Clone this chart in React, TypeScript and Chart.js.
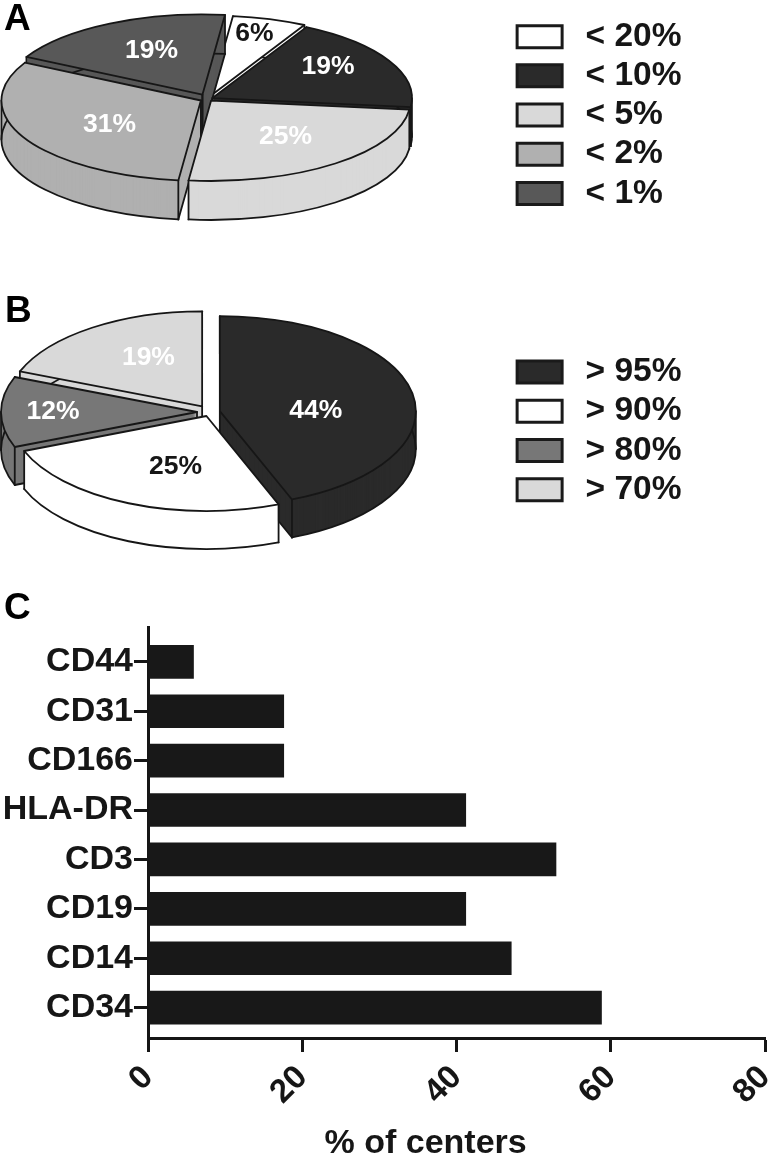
import React, { useEffect, useRef } from "react";
import { Chart, registerables } from "chart.js";

Chart.register(...registerables);

const FONT = "'Liberation Sans', Arial, sans-serif";
const INK = "#161616";
const SOFT = "blur(0.5px)";

// Panel A
const legendA = ["< 20%", "< 10%", "< 5%", "< 2%", "< 1%"];
const valuesA = [6, 19, 25, 31, 19];
const colorsA = ["#ffffff", "#2a2a2a", "#d9d9d9", "#b0b0b0", "#585858"];
const textColorsA = ["#161616", "#ffffff", "#ffffff", "#ffffff", "#ffffff"];
const offsetsA = [32, 20, 20, 32, 48];
const labelRadiiA = [0.81, 0.7, 0.58, 0.55, 0.6];
const labelTurnA = [-1.5, -6.5, -1.5, -6, 2.5];

// Panel B
const legendB = ["> 95%", "> 90%", "> 80%", "> 70%"];
const valuesB = [44, 25, 12, 19];
const colorsB = ["#2a2a2a", "#ffffff", "#777777", "#d9d9d9"];
const textColorsB = ["#ffffff", "#161616", "#ffffff", "#ffffff"];
const offsetsB = [40, 36, 52, 56];
const labelRadiiB = [0.49, 0.56, 0.735, 0.58];
const labelTurnB = [10, -7, 0, 6];

// Panel C
const markers = ["CD44", "CD31", "CD166", "HLA-DR", "CD3", "CD19", "CD14", "CD34"];
const percentCenters = [5.9, 17.6, 17.6, 41.2, 52.9, 41.2, 47.1, 58.8];
const xTicks = [0, 20, 40, 60, 80];
const xTitle = "% of centers";

type PieSpec = {
  cx: number; cy: number; k: number; depth: number;
  texts: string[]; textColors: string[]; radii: number[]; turns: number[];
};

function sector(ctx: CanvasRenderingContext2D, x: number, y: number, r: number, k: number, a0: number, a1: number) {
  ctx.beginPath();
  ctx.moveTo(x, y);
  ctx.ellipse(x, y, r, r * k, 0, a0, a1);
  ctx.closePath();
}

function pie3d(spec: PieSpec) {
  return {
    id: "pie3d",
    beforeDatasetsDraw(chart: any) {
      const { ctx } = chart;
      const { cx, cy, k, depth } = spec;
      const arcs = chart.getDatasetMeta(0).data as any[];
      const geo = arcs.map((arc: any, i: number) => {
        const mid = (arc.startAngle + arc.endAngle) / 2;
        const off = (arc.options.offset || 0) / 4;
        return {
          arc, i, mid,
          x: cx + Math.cos(mid) * off,
          y: cy + Math.sin(mid) * off * k,
          r: arc.outerRadius,
        };
      });
      const order = [...geo].sort((a, b) => Math.sin(a.mid) - Math.sin(b.mid));
      ctx.save();
      ctx.lineJoin = "round";
      ctx.lineCap = "round";
      const line = (x0: number, y0: number, x1: number, y1: number) => {
        ctx.beginPath();
        ctx.moveTo(x0, y0);
        ctx.lineTo(x1, y1);
        ctx.stroke();
      };
      for (const g of order) {
        const { arc, x, y, r } = g;
        const a0 = arc.startAngle;
        const a1 = arc.endAngle;
        const rim = (a: number) => [x + Math.cos(a) * r, y + Math.sin(a) * r * k];
        // side walls: the sector swept downwards
        ctx.fillStyle = arc.options.backgroundColor;
        for (let d = depth; d >= 1; d--) {
          sector(ctx, x, y + d, r, k, a0, a1);
          ctx.fill();
        }
        ctx.strokeStyle = INK;
        ctx.lineWidth = 1.8;
        ctx.beginPath();
        ctx.ellipse(x, y + depth, r, r * k, 0, a0, a1);
        ctx.stroke();
        const verticals = [a0, a1];
        for (let m = -2; m <= 4; m++) {
          const s = m * Math.PI;
          if (s > a0 && s < a1) verticals.push(s);
        }
        for (const a of verticals) {
          const [px, py] = rim(a);
          line(px, py, px, py + depth);
        }
        if (Math.cos(a0) < 0) {
          const [px, py] = rim(a0);
          line(x, y + depth, px, py + depth);
          line(x, y, x, y + depth);
        }
        if (Math.cos(a1) > 0) {
          const [px, py] = rim(a1);
          line(x, y + depth, px, py + depth);
          line(x, y, x, y + depth);
        }
        // top face
        sector(ctx, x, y, r, k, a0, a1);
        ctx.fill();
        ctx.stroke();
      }
      // percentage labels
      ctx.font = `bold 26.5px ${FONT}`;
      ctx.textAlign = "center";
      ctx.textBaseline = "middle";
      for (const g of geo) {
        const a = g.mid + (spec.turns[g.i] * Math.PI) / 180;
        const rr = spec.radii[g.i] * g.r;
        ctx.fillStyle = spec.textColors[g.i];
        ctx.fillText(spec.texts[g.i], g.x + Math.cos(a) * rr, g.y + Math.sin(a) * rr * k);
      }
      ctx.restore();
      return false;
    },
  };
}

function PiePanel(props: {
  top: number; height: number; legendTop: number; rotation: number; radius: number;
  labels: string[]; values: number[]; colors: string[]; offsets: number[]; spec: PieSpec;
}) {
  const ref = useRef<HTMLCanvasElement>(null);
  useEffect(() => {
    const chart = new Chart(ref.current as HTMLCanvasElement, {
      type: "pie",
      data: {
        labels: props.labels,
        datasets: [{
          data: props.values,
          backgroundColor: props.colors,
          borderColor: INK,
          borderWidth: 1,
          offset: props.offsets,
          hoverOffset: 0,
        }],
      },
      options: {
        responsive: false,
        animation: false,
        rotation: props.rotation,
        radius: props.radius,
        events: [],
        layout: { padding: { top: props.legendTop, right: 78.5 } },
        plugins: {
          tooltip: { enabled: false },
          legend: {
            position: "right",
            align: "start",
            labels: {
              boxWidth: 45,
              boxHeight: 22,
              padding: 5.7,
              color: INK,
              font: { family: FONT, size: 33.5, weight: "bold" },
              generateLabels(c: any) {
                const items = (Chart as any).overrides.doughnut.plugins.legend.labels.generateLabels(c);
                return items.map((it: any) => ({ ...it, text: "\u2009" + it.text, lineWidth: 3, strokeStyle: "#1a1a1a" }));
              },
            },
          },
        },
      } as any,
      plugins: [pie3d(props.spec) as any],
    });
    return () => chart.destroy();
  }, []);
  return <canvas ref={ref} width={770} height={props.height} style={{ position: "absolute", left: 0, top: props.top, filter: SOFT }} />;
}

const axisTitle = {
  id: "axisTitle",
  afterDraw(chart: any) {
    const { ctx, scales } = chart;
    ctx.save();
    ctx.font = `bold 34px ${FONT}`;
    ctx.fillStyle = INK;
    ctx.textAlign = "center";
    ctx.textBaseline = "middle";
    ctx.fillText(xTitle, scales.x.getPixelForValue(36), scales.x.bottom - 12);
    ctx.restore();
  },
};

function BarPanel() {
  const ref = useRef<HTMLCanvasElement>(null);
  useEffect(() => {
    const chart = new Chart(ref.current as HTMLCanvasElement, {
      type: "bar",
      data: {
        datasets: [{
          data: percentCenters.map((v, i) => ({ x: v, y: i })),
          backgroundColor: "#181818",
          barThickness: 33,
        }],
      },
      options: {
        indexAxis: "y",
        responsive: false,
        animation: false,
        events: [],
        layout: { autoPadding: false, padding: { top: 27, right: 5, left: 0, bottom: 0 } },
        plugins: { legend: { display: false }, tooltip: { enabled: false } },
        scales: {
          x: {
            type: "linear",
            min: 0,
            max: 80,
            afterFit(s: any) { s.height = 118; s.width = 617; s.paddingRight = 0; s.paddingLeft = 0; },
            afterBuildTicks(s: any) { s.ticks = xTicks.map((value) => ({ value })); },
            border: { color: INK, width: 3 },
            grid: { drawOnChartArea: false, color: INK, tickColor: INK, tickWidth: 3, tickLength: 14 },
            ticks: {
              color: INK,
              minRotation: 45,
              maxRotation: 45,
              autoSkip: false,
              padding: 6,
              font: { family: FONT, size: 33, weight: "bold" },
            },
          },
          y: {
            type: "linear",
            reverse: true,
            offset: false,
            min: -0.705,
            max: 7.615,
            afterFit(s: any) { s.width = 148; },
            afterBuildTicks(s: any) { s.ticks = markers.map((_, value) => ({ value })); },
            border: { color: INK, width: 3 },
            grid: { offset: false, drawOnChartArea: false, color: INK, tickColor: INK, tickWidth: 3, tickLength: 14 },
            ticks: {
              color: INK,
              autoSkip: false,
              padding: 1,
              font: { family: FONT, size: 34, weight: "bold" },
              callback: (v: any) => markers[v as number],
            },
          },
        },
      } as any,
      plugins: [axisTitle as any],
    });
    return () => chart.destroy();
  }, []);
  return <canvas ref={ref} width={770} height={556} style={{ position: "absolute", left: 0, top: 600, filter: SOFT }} />;
}

const panelLetter = (text: string, left: number, top: number) => (
  <div style={{ position: "absolute", left, top, font: `bold 37px/40px ${FONT}`, color: "#000", filter: SOFT }}>{text}</div>
);

export default function App() {
  return (
    <div style={{ position: "absolute", left: 0, top: 0, width: 770, height: 1156, overflow: "hidden", background: "#fff" }}>
      <PiePanel
        top={0} height={250} legendTop={14.2} rotation={6.5} radius={199.5}
        labels={legendA} values={valuesA} colors={colorsA} offsets={offsetsA}
        spec={{ cx: 208, cy: 99, k: 0.403, depth: 39, texts: valuesA.map((v) => `${v}%`), textColors: textColorsA, radii: labelRadiiA, turns: labelTurnA }}
      />
      <PiePanel
        top={290} height={270} legendTop={59.6} rotation={0} radius={196}
        labels={legendB} values={valuesB} colors={colorsB} offsets={offsetsB}
        spec={{ cx: 210, cy: 122, k: 0.485, depth: 38, texts: valuesB.map((v) => `${v}%`), textColors: textColorsB, radii: labelRadiiB, turns: labelTurnB }}
      />
      <BarPanel />
      {panelLetter("A", 4, -2)}
      {panelLetter("B", 5, 290)}
      {panelLetter("C", 4, 587)}
    </div>
  );
}
